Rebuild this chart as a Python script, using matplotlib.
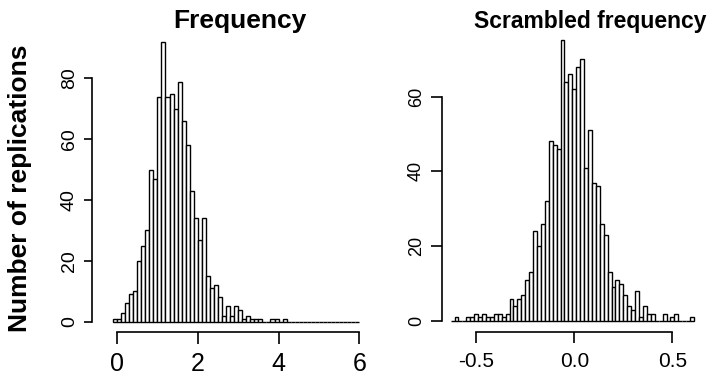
import numpy as np
import matplotlib.pyplot as plt

plt.rcParams['font.family'] = ['Liberation Sans', 'DejaVu Sans']

# left panel: bins of 0.1 starting at -0.1
freq_start, freq_width = -0.1, 0.1
freq_counts = [1, 1, 3, 6, 9, 10, 20, 25, 30, 50, 47, 74, 92, 74, 75, 70, 79, 66,
               58, 43, 34, 27, 34, 15, 11, 12, 8, 2, 5, 2, 5, 4, 1, 2, 1, 1, 1,
               0, 0, 1, 1, 0, 1, 0, 0, 0, 0, 0, 0, 0, 0, 0, 0, 0, 0, 0, 0, 0, 0,
               0, 0]
freq_xticks = [0, 2, 4, 6]
freq_yticks = [0, 20, 40, 60, 80]

# right panel: bins of 0.02 starting at -0.63
scr_start, scr_width = -0.63, 0.02
scr_counts = [0, 1, 0, 0, 1, 1, 2, 1, 2, 1, 1, 2, 2, 1, 2,
              6, 4, 6, 7, 11, 13, 24, 20, 26, 32, 48, 47, 46, 75,
              64, 66, 62, 68, 70, 41, 51, 37, 36, 26, 23, 13, 9, 11, 10,
              7, 4, 3, 8, 1, 4, 2, 2, 0, 0, 2, 0, 1, 2, 0, 0, 0, 1]
scr_xticks = [-0.5, 0.0, 0.5]
scr_xlabels = ['-0.5', '0.0', '0.5']
scr_yticks = [0, 20, 40, 60]

W, H = 710, 377
fig = plt.figure(figsize=(W / 100, H / 100), dpi=100)


def px_axes(left, right, top, bottom):
    return fig.add_axes([left / W, 1 - bottom / H, (right - left) / W, (bottom - top) / H])


def r_style(ax, xb, yb, xsize, ysize, xlen, ylen):
    # R-like detached axes
    for s in ['top', 'right']:
        ax.spines[s].set_visible(False)
    ax.spines['left'].set_bounds(*yb)
    ax.spines['bottom'].set_bounds(*xb)
    for s in ['left', 'bottom']:
        ax.spines[s].set_linewidth(1.2)
    ax.tick_params(axis='x', direction='out', length=xlen, width=1.2, pad=6, labelsize=xsize)
    ax.tick_params(axis='y', direction='out', length=ylen, width=1.2, pad=4, labelsize=ysize)
    for lab in ax.get_yticklabels():
        lab.set_rotation(90)
        lab.set_va('center')


def draw_hist(ax, start, width, counts):
    edges = start + width * np.arange(len(counts))
    ax.bar(edges, counts, width=width, align='edge', facecolor='white',
           edgecolor='black', linewidth=1.0)


# left panel
ax1 = px_axes(91.7, 367.4, 32.9, 331.7)
draw_hist(ax1, freq_start, freq_width, freq_counts)
ax1.set_xlim(-0.627, 6.2)
ax1.set_ylim(-3.3, 95)
ax1.set_xticks(freq_xticks)
ax1.set_yticks(freq_yticks)
r_style(ax1, (0, 6), (0, 80), 18, 14, 8.4, 6)

# right panel
ax2 = px_axes(441.7, 705, 32.9, 332.3)
draw_hist(ax2, scr_start, scr_width, scr_counts)
ax2.set_xlim(-0.6755, 0.666)
ax2.set_ylim(-3.02, 77.0)
ax2.set_xticks(scr_xticks)
ax2.set_xticklabels(scr_xlabels)
ax2.set_yticks(scr_yticks)
r_style(ax2, (-0.5, 0.5), (0, 60), 15, 13, 8, 8)

fig.text(240 / W, 1 - 28 / H, 'Frequency', fontsize=19, fontweight='bold',
         ha='center', va='baseline')
fig.text(590 / W, 1 - 28 / H, 'Scrambled frequency', fontsize=16.5, fontweight='bold',
         ha='center', va='baseline')
fig.text(20 / W, 1 - 188 / H, 'Number of replications', rotation=90, fontsize=19,
         fontweight='bold', ha='center', va='center')

fig.savefig('out.png', dpi=100)
